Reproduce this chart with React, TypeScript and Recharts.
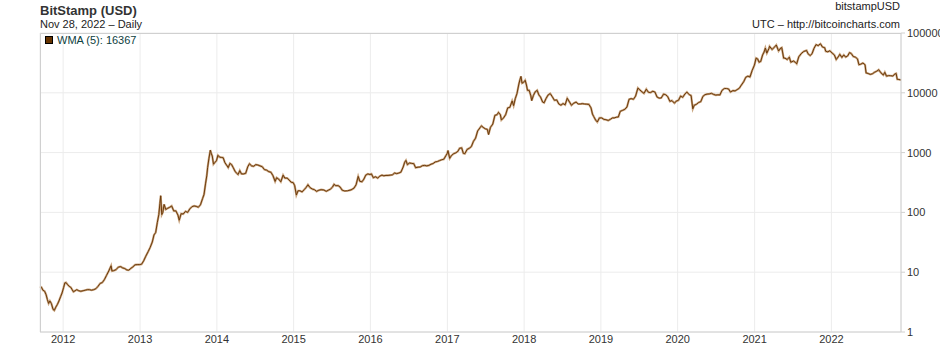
import { CartesianGrid, Line, LineChart, XAxis, YAxis } from "recharts"

// Bitstamp BTC/USD, WMA(5) of the daily close
const y2011: [string, number][] = [
  ["2011-09-13", 5.8], ["2011-09-20", 5.6], ["2011-09-27", 5.0], ["2011-10-05", 4.8],
  ["2011-10-12", 4.2], ["2011-10-18", 3.5], ["2011-10-24", 3.0], ["2011-10-30", 3.3],
  ["2011-11-06", 3.0], ["2011-11-14", 2.4], ["2011-11-20", 2.3], ["2011-11-27", 2.6],
  ["2011-12-05", 2.9], ["2011-12-12", 3.3], ["2011-12-20", 3.9], ["2011-12-27", 4.5],
]

const y2012: [string, number][] = [
  ["2012-01-03", 5.5], ["2012-01-09", 6.6], ["2012-01-15", 6.7], ["2012-01-22", 6.2],
  ["2012-01-30", 5.8], ["2012-02-06", 5.6], ["2012-02-13", 5.1], ["2012-02-19", 4.7],
  ["2012-02-27", 4.9], ["2012-03-06", 5.1], ["2012-03-15", 4.9], ["2012-03-25", 4.8],
  ["2012-04-05", 4.9], ["2012-04-15", 5.0], ["2012-04-25", 5.1], ["2012-05-05", 5.1],
  ["2012-05-15", 5.0], ["2012-05-25", 5.1], ["2012-06-05", 5.3], ["2012-06-15", 5.8],
  ["2012-06-25", 6.5], ["2012-07-05", 6.7], ["2012-07-15", 7.5], ["2012-07-25", 8.8],
  ["2012-08-05", 10.5], ["2012-08-16", 12.8], ["2012-08-20", 10.5], ["2012-08-28", 10.6],
  ["2012-09-08", 11.0], ["2012-09-20", 12.2], ["2012-10-01", 12.4], ["2012-10-10", 11.8],
  ["2012-10-20", 11.5], ["2012-10-30", 10.9], ["2012-11-08", 10.8], ["2012-11-18", 11.6],
  ["2012-11-28", 12.3], ["2012-12-08", 13.3], ["2012-12-18", 13.4], ["2012-12-28", 13.4],
]

const y2013: [string, number][] = [
  ["2013-01-08", 13.6], ["2013-01-18", 15.5], ["2013-01-28", 18.5], ["2013-02-08", 22],
  ["2013-02-18", 26], ["2013-02-28", 32], ["2013-03-08", 42], ["2013-03-16", 46],
  ["2013-03-24", 68], ["2013-03-31", 92], ["2013-04-05", 140], ["2013-04-09", 190],
  ["2013-04-14", 92], ["2013-04-19", 100], ["2013-04-25", 136], ["2013-05-03", 112],
  ["2013-05-12", 117], ["2013-05-22", 122], ["2013-05-31", 128], ["2013-06-10", 106],
  ["2013-06-20", 106], ["2013-06-30", 90], ["2013-07-06", 74], ["2013-07-15", 95],
  ["2013-07-25", 94], ["2013-08-05", 104], ["2013-08-15", 100], ["2013-08-25", 114],
  ["2013-09-05", 125], ["2013-09-15", 128], ["2013-09-25", 126], ["2013-10-05", 122],
  ["2013-10-15", 134], ["2013-10-25", 170], ["2013-11-01", 200], ["2013-11-08", 300],
  ["2013-11-14", 410], ["2013-11-18", 560], ["2013-11-24", 790], ["2013-12-01", 1100],
  ["2013-12-06", 950], ["2013-12-10", 880], ["2013-12-16", 640], ["2013-12-22", 680],
  ["2013-12-30", 730],
]

const y2014: [string, number][] = [
  ["2014-01-06", 900], ["2014-01-14", 840], ["2014-01-22", 830], ["2014-01-31", 820],
  ["2014-02-08", 680], ["2014-02-16", 620], ["2014-02-24", 560], ["2014-03-04", 660],
  ["2014-03-12", 630], ["2014-03-20", 560], ["2014-03-28", 490], ["2014-04-05", 450],
  ["2014-04-12", 430], ["2014-04-20", 500], ["2014-04-28", 440], ["2014-05-08", 440],
  ["2014-05-18", 450], ["2014-05-28", 580], ["2014-06-05", 650], ["2014-06-15", 600],
  ["2014-06-25", 590], ["2014-07-05", 630], ["2014-07-15", 620], ["2014-07-25", 600],
  ["2014-08-05", 580], ["2014-08-15", 520], ["2014-08-25", 510], ["2014-09-05", 480],
  ["2014-09-15", 470], ["2014-09-25", 410], ["2014-10-05", 330], ["2014-10-12", 380],
  ["2014-10-22", 360], ["2014-11-01", 325], ["2014-11-12", 420], ["2014-11-20", 375],
  ["2014-12-01", 375], ["2014-12-10", 350], ["2014-12-20", 320], ["2014-12-30", 315],
]

const y2015: [string, number][] = [
  ["2015-01-06", 280], ["2015-01-14", 195], ["2015-01-22", 230], ["2015-01-31", 230],
  ["2015-02-10", 220], ["2015-02-20", 240], ["2015-03-01", 260], ["2015-03-10", 290],
  ["2015-03-20", 260], ["2015-04-01", 245], ["2015-04-10", 240], ["2015-04-20", 225],
  ["2015-05-01", 235], ["2015-05-12", 240], ["2015-05-25", 237], ["2015-06-05", 225],
  ["2015-06-15", 235], ["2015-06-25", 245], ["2015-07-05", 265], ["2015-07-12", 295],
  ["2015-07-20", 280], ["2015-08-01", 280], ["2015-08-10", 265], ["2015-08-20", 235],
  ["2015-09-01", 228], ["2015-09-15", 230], ["2015-10-01", 238], ["2015-10-15", 255],
  ["2015-10-25", 290], ["2015-11-04", 400], ["2015-11-12", 330], ["2015-11-22", 325],
  ["2015-12-01", 360], ["2015-12-10", 420], ["2015-12-20", 440], ["2015-12-30", 430],
]

const y2016: [string, number][] = [
  ["2016-01-06", 440], ["2016-01-15", 380], ["2016-01-25", 395], ["2016-02-05", 375],
  ["2016-02-15", 405], ["2016-02-25", 420], ["2016-03-05", 410], ["2016-03-15", 415],
  ["2016-03-25", 415], ["2016-04-05", 420], ["2016-04-15", 425], ["2016-04-25", 455],
  ["2016-05-05", 445], ["2016-05-15", 455], ["2016-05-25", 470], ["2016-06-05", 575],
  ["2016-06-12", 690], ["2016-06-18", 740], ["2016-06-25", 630], ["2016-07-05", 670],
  ["2016-07-15", 660], ["2016-07-25", 655], ["2016-08-03", 560], ["2016-08-15", 570],
  ["2016-08-25", 575], ["2016-09-05", 605], ["2016-09-15", 610], ["2016-09-25", 600],
  ["2016-10-05", 610], ["2016-10-15", 640], ["2016-10-25", 655], ["2016-11-05", 700],
  ["2016-11-15", 710], ["2016-11-25", 735], ["2016-12-05", 760], ["2016-12-15", 775],
  ["2016-12-25", 890], ["2016-12-31", 960],
]

const y2017: [string, number][] = [
  ["2017-01-04", 1080], ["2017-01-12", 800], ["2017-01-20", 890], ["2017-01-31", 960],
  ["2017-02-10", 990], ["2017-02-20", 1050], ["2017-02-28", 1180], ["2017-03-10", 1200],
  ["2017-03-18", 970], ["2017-03-25", 960], ["2017-04-05", 1130], ["2017-04-15", 1180],
  ["2017-04-25", 1260], ["2017-05-05", 1540], ["2017-05-15", 1740], ["2017-05-25", 2300],
  ["2017-06-05", 2600], ["2017-06-12", 2800], ["2017-06-20", 2650], ["2017-06-30", 2500],
  ["2017-07-10", 2450], ["2017-07-16", 2000], ["2017-07-25", 2650], ["2017-08-05", 3000],
  ["2017-08-15", 4200], ["2017-08-25", 4300], ["2017-09-01", 4700], ["2017-09-10", 4300],
  ["2017-09-15", 3500], ["2017-09-25", 3800], ["2017-10-05", 4300], ["2017-10-15", 5600],
  ["2017-10-25", 5700], ["2017-11-05", 7300], ["2017-11-12", 6100], ["2017-11-20", 8000],
  ["2017-11-28", 9700], ["2017-12-07", 14000], ["2017-12-12", 16500], ["2017-12-17", 18800],
  ["2017-12-22", 14500], ["2017-12-28", 14800],
]

const y2018: [string, number][] = [
  ["2018-01-06", 16200], ["2018-01-12", 13500], ["2018-01-17", 11000], ["2018-01-25", 11000],
  ["2018-02-02", 8900], ["2018-02-06", 7400], ["2018-02-14", 9000], ["2018-02-22", 10300],
  ["2018-03-04", 11000], ["2018-03-12", 9200], ["2018-03-20", 8500], ["2018-03-30", 7000],
  ["2018-04-06", 6800], ["2018-04-15", 8000], ["2018-04-25", 9200], ["2018-05-05", 9700],
  ["2018-05-15", 8600], ["2018-05-25", 7500], ["2018-06-05", 7600], ["2018-06-15", 6500],
  ["2018-06-25", 6200], ["2018-07-05", 6600], ["2018-07-15", 6300], ["2018-07-25", 8100],
  ["2018-08-05", 7000], ["2018-08-14", 6200], ["2018-08-25", 6700], ["2018-09-05", 7000],
  ["2018-09-15", 6500], ["2018-09-25", 6500], ["2018-10-05", 6600], ["2018-10-15", 6500],
  ["2018-10-25", 6450], ["2018-11-05", 6400], ["2018-11-15", 5600], ["2018-11-22", 4400],
  ["2018-11-28", 4000], ["2018-12-07", 3500], ["2018-12-15", 3250], ["2018-12-25", 3800],
]

const y2019: [string, number][] = [
  ["2019-01-05", 3800], ["2019-01-15", 3600], ["2019-01-25", 3550], ["2019-02-05", 3450],
  ["2019-02-15", 3600], ["2019-02-25", 3800], ["2019-03-05", 3800], ["2019-03-15", 3900],
  ["2019-03-25", 3950], ["2019-04-03", 4900], ["2019-04-15", 5100], ["2019-04-25", 5300],
  ["2019-05-05", 5800], ["2019-05-15", 7800], ["2019-05-25", 8000], ["2019-06-05", 7800],
  ["2019-06-15", 8800], ["2019-06-26", 12000], ["2019-07-05", 11200], ["2019-07-15", 10400],
  ["2019-07-25", 9800], ["2019-08-05", 11500], ["2019-08-15", 10200], ["2019-08-25", 10100],
  ["2019-09-05", 10600], ["2019-09-15", 10300], ["2019-09-25", 8500], ["2019-10-05", 8150],
  ["2019-10-15", 8200], ["2019-10-26", 9500], ["2019-11-05", 9300], ["2019-11-15", 8600],
  ["2019-11-25", 7200], ["2019-12-05", 7400], ["2019-12-17", 6700], ["2019-12-25", 7250],
]

const y2020: [string, number][] = [
  ["2020-01-05", 7500], ["2020-01-15", 8800], ["2020-01-25", 8400], ["2020-02-05", 9600],
  ["2020-02-14", 10300], ["2020-02-25", 9300], ["2020-03-05", 9000], ["2020-03-13", 5400],
  ["2020-03-20", 6200], ["2020-03-30", 6400], ["2020-04-10", 6900], ["2020-04-20", 7100],
  ["2020-04-30", 8700], ["2020-05-10", 9300], ["2020-05-20", 9500], ["2020-05-31", 9600],
  ["2020-06-10", 9800], ["2020-06-20", 9400], ["2020-06-30", 9150], ["2020-07-10", 9250],
  ["2020-07-20", 9200], ["2020-07-30", 11000], ["2020-08-10", 11800], ["2020-08-20", 11800],
  ["2020-08-30", 11600], ["2020-09-08", 10300], ["2020-09-20", 10900], ["2020-09-30", 10750],
  ["2020-10-10", 11300], ["2020-10-20", 11900], ["2020-10-30", 13500], ["2020-11-10", 15300],
  ["2020-11-20", 18200], ["2020-11-30", 19000], ["2020-12-10", 18400], ["2020-12-20", 23500],
  ["2020-12-31", 29000],
]

const y2021: [string, number][] = [
  ["2021-01-08", 38000], ["2021-01-15", 37000], ["2021-01-22", 32500], ["2021-01-30", 33500],
  ["2021-02-08", 43000], ["2021-02-15", 48000], ["2021-02-21", 56000], ["2021-02-28", 46000],
  ["2021-03-10", 55000], ["2021-03-13", 60000], ["2021-03-25", 53000], ["2021-04-05", 58000],
  ["2021-04-14", 63000], ["2021-04-25", 50000], ["2021-05-05", 56000], ["2021-05-10", 57000],
  ["2021-05-19", 38000], ["2021-05-25", 38000], ["2021-06-05", 36000], ["2021-06-15", 39500],
  ["2021-06-22", 32500], ["2021-07-05", 34000], ["2021-07-15", 32000], ["2021-07-20", 30500],
  ["2021-07-30", 40000], ["2021-08-10", 45000], ["2021-08-22", 49000], ["2021-09-05", 51000],
  ["2021-09-12", 45000], ["2021-09-22", 42000], ["2021-10-01", 45000], ["2021-10-10", 55000],
  ["2021-10-20", 64000], ["2021-10-30", 61500], ["2021-11-10", 66000], ["2021-11-20", 58000],
  ["2021-11-30", 57000], ["2021-12-05", 49500], ["2021-12-15", 48500], ["2021-12-25", 50500],
]

const y2022: [string, number][] = [
  ["2022-01-05", 46000], ["2022-01-15", 43000], ["2022-01-24", 36000], ["2022-02-05", 41000],
  ["2022-02-10", 44000], ["2022-02-20", 39000], ["2022-03-01", 43000], ["2022-03-10", 39500],
  ["2022-03-20", 41500], ["2022-03-28", 47000], ["2022-04-05", 45500], ["2022-04-15", 40500],
  ["2022-04-25", 39500], ["2022-05-05", 37000], ["2022-05-12", 29500], ["2022-05-20", 30000],
  ["2022-05-31", 31500], ["2022-06-10", 29500], ["2022-06-15", 21500], ["2022-06-25", 21000],
  ["2022-07-05", 20300], ["2022-07-15", 20800], ["2022-07-25", 22000], ["2022-08-05", 23000],
  ["2022-08-14", 24300], ["2022-08-25", 21500], ["2022-09-05", 19800], ["2022-09-12", 22000],
  ["2022-09-20", 19000], ["2022-09-30", 19400], ["2022-10-10", 19300], ["2022-10-20", 19100],
  ["2022-10-30", 20600], ["2022-11-05", 21000], ["2022-11-10", 16800], ["2022-11-18", 16700],
  ["2022-11-28", 16367],
]

const yearTicks = [2012, 2013, 2014, 2015, 2016, 2017, 2018, 2019, 2020, 2021, 2022]
const priceTicks = [1, 10, 100, 1000, 10000, 100000]

const data = [...y2011, ...y2012, ...y2013, ...y2014, ...y2015, ...y2016, ...y2017, ...y2018, ...y2019, ...y2020, ...y2021, ...y2022]
  .map(([d, v]) => ({ t: Date.parse(d + "T00:00:00Z"), v }))

const font = "'Liberation Sans', Arial, sans-serif"

export default function App() {
  return (
    <div style={{ position: "absolute", left: 0, top: 0, width: 940, height: 348, overflow: "hidden", background: "#fff", fontFamily: font }}>
      <LineChart width={940} height={348} data={data} margin={{ top: 33, right: 0, bottom: 0, left: 40 }}>
        <CartesianGrid stroke="#ececec" horizontalValues={priceTicks} />
        <XAxis
          dataKey="t"
          type="number"
          domain={["dataMin", "dataMax"]}
          ticks={yearTicks.map((y) => Date.UTC(y, 0, 1))}
          tickFormatter={(t: number) => String(new Date(t).getUTCFullYear())}
          height={16}
          tickLine={false}
          tickSize={3}
          tickMargin={0}
          axisLine={{ stroke: "#d0d0d0" }}
          tick={{ fill: "#333", fontSize: 11, fontFamily: font }}
        />
        <YAxis
          orientation="right"
          scale="log"
          domain={[1, 100000]}
          ticks={priceTicks}
          allowDataOverflow
          width={39}
          tickSize={4}
          tickMargin={2}
          axisLine={{ stroke: "#d0d0d0" }}
          tickLine={{ stroke: "#d0d0d0" }}
          tick={{ fill: "#333", fontSize: 11, fontFamily: font, textAnchor: "start" }}
        />
        <Line dataKey="v" type="linear" stroke="#caa680" strokeWidth={2.2} dot={false} isAnimationActive={false} />
        <Line dataKey="v" type="linear" stroke="#6b3a0c" strokeWidth={1} dot={false} isAnimationActive={false} />
      </LineChart>

      <svg width={940} height={348} style={{ position: "absolute", left: 0, top: 0, pointerEvents: "none" }} fontFamily={font}>
        <path d="M40.5,332 V33.5 H901" fill="none" stroke="#d0d0d0" />
        <text x={40} y={15} fontSize={13} fontWeight="bold" fill="#333">BitStamp (USD)</text>
        <text x={40} y={28} fontSize={11} fill="#222">Nov 28, 2022 – Daily</text>
        <text x={900} y={10} fontSize={11} fill="#222" textAnchor="end">bitstampUSD</text>
        <text x={900} y={28} fontSize={11} fill="#222" textAnchor="end">UTC – http://bitcoincharts.com</text>
        <rect x={45.5} y={36.5} width={7} height={7} fill="#663300" stroke="#000" />
        <text x={57} y={44} fontSize={11} fill="#0d4040">WMA (5): 16367</text>
      </svg>
    </div>
  )
}
